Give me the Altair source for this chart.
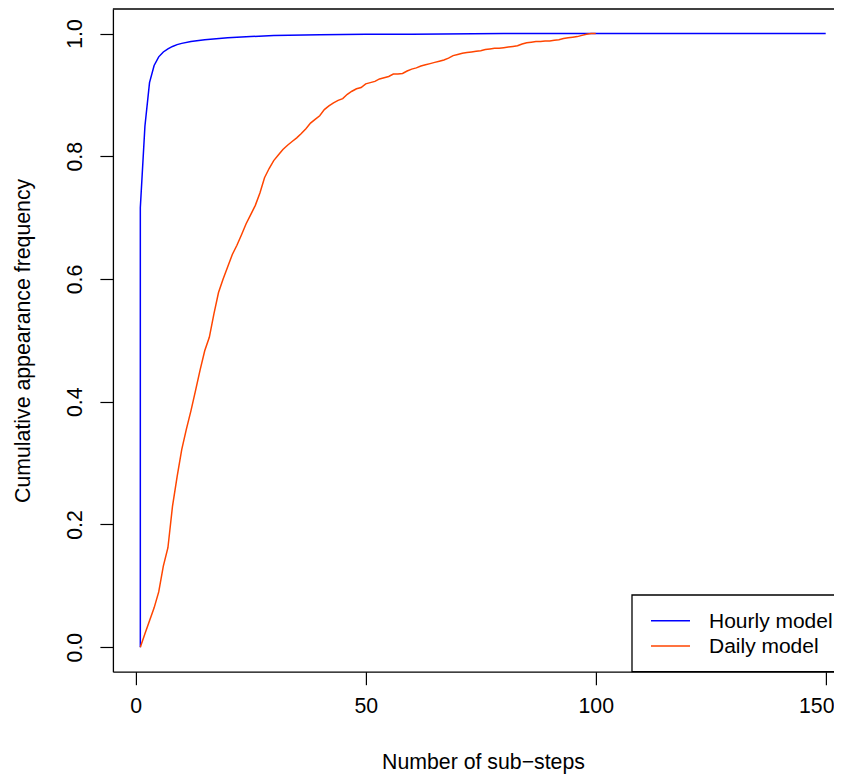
import altair as alt
import pandas as pd

# ---- data ----
series_names = ["Hourly model", "Daily model"]
series_colors = ["#0000FF", "#FF4500"]

hourly_x = [1, 1, 2, 3, 4, 5, 6, 7, 8, 9, 10, 12, 15, 20, 25, 30, 40, 50, 60, 80, 100, 150]
hourly_y = [0.0, 0.716, 0.849, 0.920, 0.948, 0.962, 0.970, 0.975, 0.979, 0.982, 0.984,
            0.987, 0.990, 0.993, 0.995, 0.997, 0.998, 0.999, 0.999, 1.0, 1.0, 1.0]

daily_x = list(range(1, 101))
daily_y = [0.000, 0.022, 0.043, 0.064, 0.090, 0.132, 0.162, 0.230, 0.278, 0.322,
           0.355, 0.385, 0.418, 0.452, 0.483, 0.505, 0.543, 0.578, 0.600, 0.620,
           0.640, 0.655, 0.672, 0.690, 0.705, 0.720, 0.740, 0.765, 0.780, 0.793,
           0.802, 0.811, 0.818, 0.824, 0.830, 0.837, 0.845, 0.854, 0.860, 0.866,
           0.876, 0.882, 0.887, 0.891, 0.894, 0.901, 0.906, 0.910, 0.912, 0.918,
           0.920, 0.922, 0.926, 0.928, 0.930, 0.934, 0.934, 0.935, 0.939, 0.942,
           0.944, 0.947, 0.949, 0.951, 0.953, 0.955, 0.957, 0.960, 0.964, 0.966,
           0.968, 0.969, 0.970, 0.971, 0.972, 0.974, 0.975, 0.976, 0.976, 0.977,
           0.978, 0.979, 0.980, 0.983, 0.985, 0.986, 0.987, 0.987, 0.988, 0.988,
           0.989, 0.990, 0.992, 0.993, 0.994, 0.995, 0.997, 0.999, 1.000, 1.000]

x_ticks = [0, 50, 100, 150]
y_ticks = [0.0, 0.2, 0.4, 0.6, 0.8, 1.0]

rows = []
for i, (x, y) in enumerate(zip(hourly_x, hourly_y)):
    rows.append({"series": series_names[0], "x": x, "y": y, "order": i})
for i, (x, y) in enumerate(zip(daily_x, daily_y)):
    rows.append({"series": series_names[1], "x": x, "y": y, "order": i})
df = pd.DataFrame(rows)

# ---- layout ----
PAD_L = 104.9
W = 826 - PAD_L          # svg exactly as wide as the page content box
H = 662.7
FONT = "Liberation Sans"
FS = 21.3
LEG_FS = 21

xscale = alt.Scale(domain=[-4.96, 151.8], nice=False, zero=False)
yscale = alt.Scale(domain=[-0.04, 1.04], nice=False, zero=False)

x_axis = alt.Axis(
    values=x_ticks, format="d", title="Number of sub\u2212steps",
    grid=False, tickSize=13, tickColor="black", tickWidth=1.2,
    domainColor="black", domainWidth=1.3,
    labelFont=FONT, labelFontSize=FS, labelColor="black",
    labelPadding=28.3, labelBaseline="alphabetic", labelAlign="center",
    labelOffset={"condition": {"test": "datum.value == 150", "value": -9.5}, "value": 0},
    labelFlush=False, labelOverlap=False,
    titleFont=FONT, titleFontSize=FS, titleFontWeight="normal", titleColor="black",
    titleX=370.1, titleY=97.3, titleAlign="center", titleBaseline="alphabetic",
)
y_axis = alt.Axis(
    values=y_ticks, format=".1f", title="Cumulative appearance frequency",
    grid=False, tickSize=13, tickColor="black", tickWidth=1.2,
    domainColor="black", domainWidth=1.3,
    labelFont=FONT, labelFontSize=FS, labelColor="black",
    labelAngle=270, labelAlign="center", labelBaseline="alphabetic",
    labelPadding=18.2, labelFlush=False, labelOverlap=False,
    titleFont=FONT, titleFontSize=FS, titleFontWeight="normal", titleColor="black",
    titleAngle=270, titleX=-83.4, titleY=H / 2, titleAlign="center",
    titleBaseline="alphabetic",
)

lines = alt.Chart(df).mark_line(strokeWidth=1.5, clip=True).encode(
    x=alt.X("x:Q", scale=xscale, axis=x_axis),
    y=alt.Y("y:Q", scale=yscale, axis=y_axis),
    color=alt.Color("series:N", scale=alt.Scale(domain=series_names, range=series_colors), legend=None),
    order="order:Q",
)

one = pd.DataFrame({"k": [0]})

top_frame = alt.Chart(one).mark_rule(color="black", strokeWidth=1.3).encode(
    x=alt.value(0), x2=alt.value(W + 20), y=alt.value(0)
)

LX = 519.1  # legend box left edge (plot coords)
legend_box = alt.Chart(one).mark_rect(fill="white", stroke="black", strokeWidth=1.3).encode(
    x=alt.value(LX), x2=alt.value(W + 20), y=alt.value(586), y2=alt.value(H)
)

legend_layers = [legend_box]
line_ys = [611.7, 637.0]
text_ys = [619.3, 644.3]
for name, col, ly, ty in zip(series_names, series_colors, line_ys, text_ys):
    legend_layers.append(
        alt.Chart(one).mark_rule(color=col, strokeWidth=1.5).encode(
            x=alt.value(LX + 19), x2=alt.value(LX + 58), y=alt.value(ly)
        )
    )
    legend_layers.append(
        alt.Chart(one).mark_text(
            text=name, font=FONT, fontSize=LEG_FS, color="black",
            align="left", baseline="alphabetic"
        ).encode(x=alt.value(LX + 77), y=alt.value(ty))
    )

chart = alt.layer(lines, top_frame, *legend_layers).properties(
    width=W, height=H,
    autosize=alt.AutoSizeParams(type="none"),
    padding={"left": PAD_L, "top": 1, "right": 0, "bottom": 104},
    background="white",
).configure_view(stroke=None)

chart.save("out.html", embed_options={"renderer": "svg", "actions": False})
